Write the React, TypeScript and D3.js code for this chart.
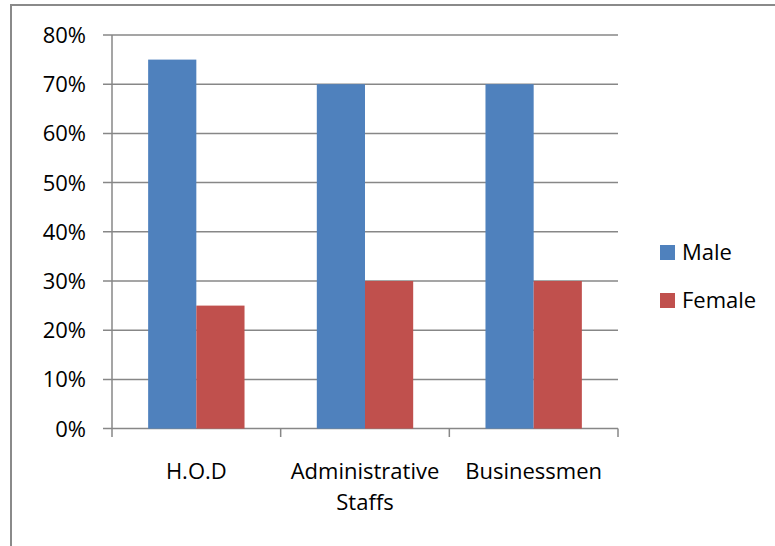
import React from "react";
import * as d3 from "d3";

const categories = ["H.O.D", "Administrative Staffs", "Businessmen"];
const seriesNames = ["Male", "Female"];
const maleValues = [0.75, 0.7, 0.7];
const femaleValues = [0.25, 0.3, 0.3];
const yTicks = [0, 0.1, 0.2, 0.3, 0.4, 0.5, 0.6, 0.7, 0.8];
const colors = ["#4F81BD", "#C0504D"];

const W = 775;
const H = 546;
const plotLeft = 112;
const plotRight = 618;
const plotTop = 35;
const plotBottom = 428.6;
const FONT = "'Open Sans', sans-serif";

export default function App() {
  const x = d3.scaleBand<string>().domain(categories).range([plotLeft, plotRight]);
  const inner = d3
    .scaleBand<string>()
    .domain(seriesNames)
    .range([0, x.bandwidth()])
    .paddingInner(0)
    .paddingOuter(0.75);
  const y = d3.scaleLinear().domain([0, 0.8]).range([plotBottom, plotTop]);
  const fmt = d3.format(".0%");
  const series = [maleValues, femaleValues];
  const gridColor = "#878787";
  const tickEdges = [...categories.map((c) => x(c) as number), plotRight];

  return (
    <svg
      width={W}
      height={H}
      style={{ position: "absolute", left: 0, top: 0, background: "#fff" }}
      fontFamily={FONT}
    >
      <rect x={0} y={0} width={W} height={H} fill="#fff" />
      <rect x={11} y={5} width={W + 20} height={H + 20} fill="none" stroke="#8a8a8a" strokeWidth={2} />
      {yTicks.map((t) => (
        <g key={t}>
          <line x1={103} x2={plotRight} y1={y(t)} y2={y(t)} stroke={gridColor} strokeWidth={1.5} />
          <text x={86} y={y(t)} dy="0.36em" textAnchor="end" fontSize={22} fill="#000">
            {fmt(t)}
          </text>
        </g>
      ))}
      {series.map((vals, si) =>
        categories.map((c, ci) => (
          <rect
            key={`${si}-${ci}`}
            x={(x(c) as number) + (inner(seriesNames[si]) as number)}
            y={y(vals[ci])}
            width={inner.bandwidth()}
            height={plotBottom - y(vals[ci])}
            fill={colors[si]}
          />
        ))
      )}
      <line x1={plotLeft} x2={plotLeft} y1={plotTop} y2={plotBottom} stroke={gridColor} strokeWidth={1.5} />
      {tickEdges.map((tx, i) => (
        <line key={i} x1={tx} x2={tx} y1={plotBottom} y2={437} stroke={gridColor} strokeWidth={1.5} />
      ))}
      {categories.map((c) => {
        const cx = (x(c) as number) + x.bandwidth() / 2;
        const words = c === "Administrative Staffs" ? ["Administrative", "Staffs"] : [c];
        return (
          <text key={c} x={cx} y={479} textAnchor="middle" fontSize={22} fill="#000">
            {words.map((w, i) => (
              <tspan key={i} x={cx} dy={i === 0 ? 0 : 31}>
                {w}
              </tspan>
            ))}
          </text>
        );
      })}
      {seriesNames.map((s, i) => (
        <g key={s}>
          <rect x={660} y={245 + i * 48} width={15} height={15} fill={colors[i]} />
          <text x={682} y={260 + i * 48} fontSize={22} fill="#000">
            {s}
          </text>
        </g>
      ))}
    </svg>
  );
}
